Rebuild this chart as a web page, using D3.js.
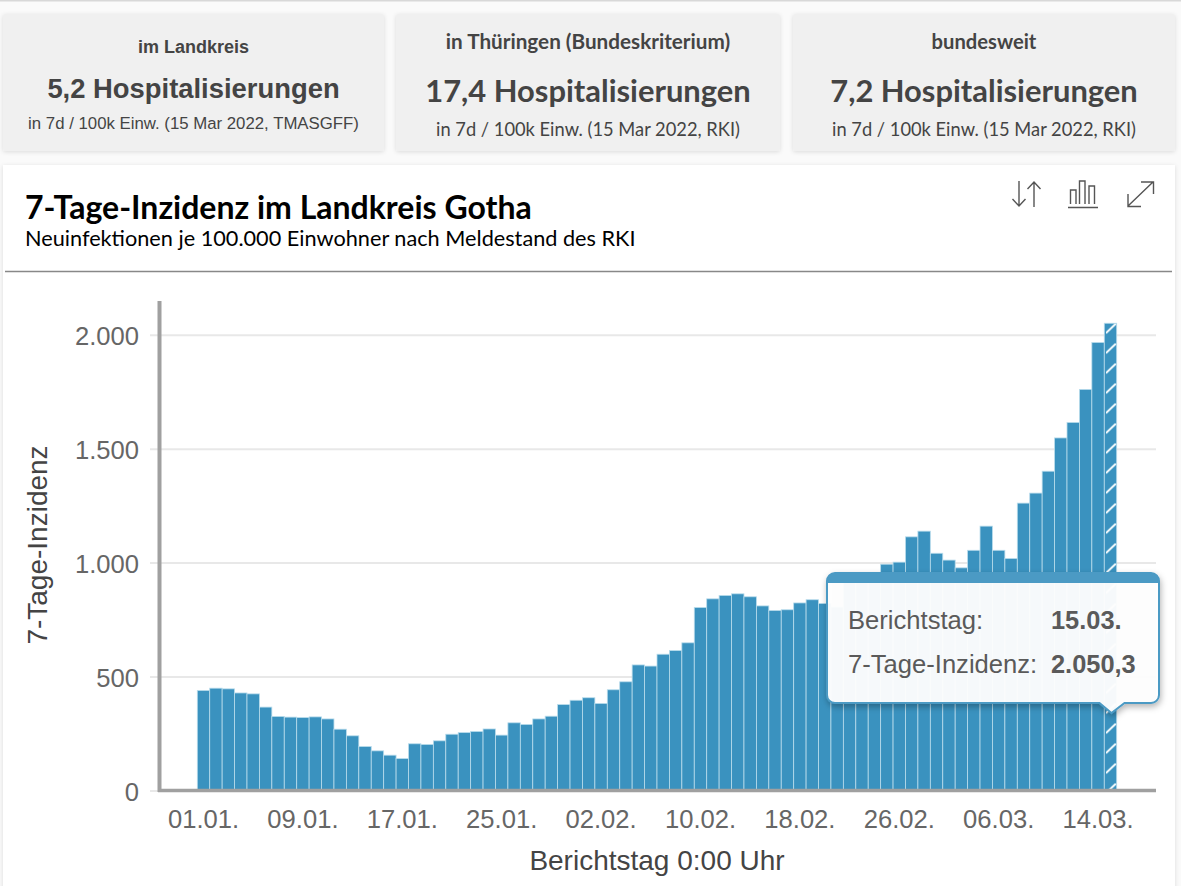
<!DOCTYPE html>
<html>
<head>
<meta charset="utf-8">
<script src="https://cdn.jsdelivr.net/npm/d3@7"></script>
<style>
  html, body { margin: 0; padding: 0; background: #fafafa; overflow: hidden; }
  svg { display: block; }
  .arial { font-family: "Liberation Sans", Arial, sans-serif; }
  .lato { font-family: Lato, sans-serif; }
</style>
</head>
<body>
<script>
// Report days, one per bar
const days = [
  "01.01.","02.01.","03.01.","04.01.","05.01.","06.01.","07.01.","08.01.","09.01.","10.01.",
  "11.01.","12.01.","13.01.","14.01.","15.01.","16.01.","17.01.","18.01.","19.01.","20.01.",
  "21.01.","22.01.","23.01.","24.01.","25.01.","26.01.","27.01.","28.01.","29.01.","30.01.","31.01.",
  "01.02.","02.02.","03.02.","04.02.","05.02.","06.02.","07.02.","08.02.","09.02.","10.02.",
  "11.02.","12.02.","13.02.","14.02.","15.02.","16.02.","17.02.","18.02.","19.02.","20.02.",
  "21.02.","22.02.","23.02.","24.02.","25.02.","26.02.","27.02.","28.02.",
  "01.03.","02.03.","03.03.","04.03.","05.03.","06.03.","07.03.","08.03.","09.03.","10.03.",
  "11.03.","12.03.","13.03.","14.03.","15.03."
];

// 7-day incidence
const incidence = [
  439,449,446,428,424,366,325,322,320,323,
  314,269,240,193,174,155,140,205,202,218,
  247,254,259,270,243,297,290,314,326,377,396,
  407,382,442,477,551,546,598,614,648,803,
  841,856,863,850,810,790,793,823,837,821,
  805,920,935,950,993,1002,1113,1138,
  1041,1011,977,1054,1160,1054,1018,1261,1305,1401,
  1547,1615,1760,1966,2050.3
];

const xTickLabels = ["01.01.","09.01.","17.01.","25.01.","02.02.","10.02.","18.02.","26.02.","06.03.","14.03."];
const yTicks = [0, 500, 1000, 1500, 2000];
const hatchedDay = "15.03.";

const cards = [
  { x: 3, w: 381, head: "im Landkreis", main: "5,2 Hospitalisierungen", sub: "in 7d / 100k Einw. (15 Mar 2022, TMASGFF)" },
  { x: 396, w: 384, head: "in Thüringen (Bundeskriterium)", main: "17,4 Hospitalisierungen", sub: "in 7d / 100k Einw. (15 Mar 2022, RKI)" },
  { x: 793, w: 382, head: "bundesweit", main: "7,2 Hospitalisierungen", sub: "in 7d / 100k Einw. (15 Mar 2022, RKI)" }
];

const width = 1181, height = 886;
const blue = "#3a92bf", grey = "#666";
const de = d3.formatLocale({ decimal: ",", thousands: ".", grouping: [3], currency: ["", "€"] });

const svg = d3.select("body").append("svg")
  .attr("width", width)
  .attr("height", height);

const defs = svg.append("defs");

const shadow = defs.append("filter").attr("id", "soft")
  .attr("x", "-5%").attr("y", "-10%").attr("width", "110%").attr("height", "120%");
shadow.append("feDropShadow").attr("dx", 0).attr("dy", 1).attr("stdDeviation", 2)
  .attr("flood-color", "#000").attr("flood-opacity", 0.12);

const tipShadow = defs.append("filter").attr("id", "tipShadow")
  .attr("x", "-5%").attr("y", "-10%").attr("width", "110%").attr("height", "125%");
tipShadow.append("feDropShadow").attr("dx", 1).attr("dy", 3).attr("stdDeviation", 3)
  .attr("flood-color", "#000").attr("flood-opacity", 0.3);

// Diagonal stripes for the last (incomplete) day
const hatch = defs.append("pattern").attr("id", "hatch")
  .attr("patternUnits", "userSpaceOnUse")
  .attr("width", 20).attr("height", 20)
  .attr("patternTransform", "translate(1106,323.5)");
hatch.append("rect").attr("width", 20).attr("height", 20).attr("fill", blue);
hatch.append("path").attr("d", "M0,9.5L10,0").attr("stroke", "#fff").attr("stroke-width", 1.8).attr("fill", "none");

// Page top line
svg.append("rect").attr("width", width).attr("height", 1.5).attr("fill", "#d8d8d8");

// Summary cards
const cardSizes = [
  { head: 18, main: 27.4, sub: 16.8 },
  { head: 20.7, main: 30.9, sub: 18.3 },
  { head: 20.2, main: 30.9, sub: 18.3 }
];
cards.forEach((c, i) => {
  const g = svg.append("g");
  const cx = c.x + c.w / 2;
  g.append("rect")
    .attr("x", c.x).attr("y", 14).attr("width", c.w).attr("height", 137).attr("rx", 2)
    .attr("fill", "#f0f0f0").attr("filter", "url(#soft)");
  const fam = i === 0 ? "arial" : "lato";
  g.append("text").attr("class", fam)
    .attr("x", cx).attr("y", i === 0 ? 53 : 48.5)
    .attr("text-anchor", "middle").attr("fill", "#444")
    .attr("font-weight", "bold").attr("font-size", cardSizes[i].head)
    .text(c.head);
  g.append("text").attr("class", fam)
    .attr("x", cx).attr("y", i === 0 ? 98 : 102)
    .attr("text-anchor", "middle").attr("fill", "#444")
    .attr("font-weight", "bold").attr("font-size", cardSizes[i].main)
    .text(c.main);
  g.append("text").attr("class", fam)
    .attr("x", cx).attr("y", i === 0 ? 129 : 136)
    .attr("text-anchor", "middle").attr("fill", "#444")
    .attr("font-size", cardSizes[i].sub)
    .text(c.sub);
});

// Chart panel
svg.append("rect")
  .attr("x", 3).attr("y", 165).attr("width", 1172).attr("height", 740)
  .attr("fill", "#fff").attr("filter", "url(#soft)");

svg.append("text").attr("class", "lato")
  .attr("x", 25).attr("y", 219)
  .attr("font-weight", "bold").attr("font-size", 32).attr("fill", "#000")
  .text("7-Tage-Inzidenz im Landkreis Gotha");

svg.append("text").attr("class", "lato")
  .attr("x", 25).attr("y", 246)
  .attr("font-size", 21.7).attr("fill", "#000")
  .text("Neuinfektionen je 100.000 Einwohner nach Meldestand des RKI");

svg.append("line")
  .attr("x1", 5).attr("x2", 1172).attr("y1", 271.5).attr("y2", 271.5)
  .attr("stroke", "#888").attr("stroke-width", 1.5);

// Toolbar icons
const icons = svg.append("g").attr("fill", "none").attr("stroke", "#555").attr("stroke-width", 1.4);
icons.append("path").attr("d", "M1019,181V206M1012.5,199L1019,206L1025.5,199M1034,207V182M1027.5,189L1034,182L1040.5,189");
icons.append("path").attr("d", "M1068,207.5H1098M1070.5,204V190H1076V204M1079.5,204V181H1085V204M1089,204V186H1094.5V204");
icons.append("path").attr("d", "M1128,206L1153,182M1141,182H1153.5V194M1128,194V206.5H1141");

// Scales
const x = d3.scaleBand().domain(days).range([197.3, 1116.7]);
const y = d3.scaleLinear().domain([0, 2000]).range([790.5, 334.7]);

// Grid lines and value labels
const yAxis = svg.append("g")
  .attr("class", "arial")
  .attr("transform", "translate(150,0)")
  .call(d3.axisLeft(y)
    .tickValues(yTicks)
    .tickSize(-1006)
    .tickPadding(11)
    .tickFormat(de.format(",d")));
yAxis.select(".domain").remove();
yAxis.selectAll(".tick line").attr("stroke", "#e8e8e8").attr("stroke-width", 2);
yAxis.selectAll(".tick text").attr("y", 1.5).attr("font-size", 25.6).attr("fill", grey).attr("font-family", "Liberation Sans");

// Bars
svg.append("g")
  .selectAll("rect")
  .data(incidence)
  .join("rect")
  .attr("x", (d, i) => x(days[i]))
  .attr("y", d => y(d))
  .attr("width", x.bandwidth())
  .attr("height", d => y(0) - y(d))
  .attr("fill", (d, i) => days[i] === hatchedDay ? "url(#hatch)" : blue)
  .attr("stroke", "#b9dcec")
  .attr("stroke-width", 0.8);

// Axis lines
svg.append("line")
  .attr("x1", 159.5).attr("x2", 159.5).attr("y1", 301).attr("y2", 792)
  .attr("stroke", "#a0a0a0").attr("stroke-width", 4);

const xAxis = svg.append("g")
  .attr("class", "arial")
  .attr("transform", "translate(0,790.5)")
  .call(d3.axisBottom(x).tickValues(xTickLabels).tickSize(0).tickPadding(19));
xAxis.select(".domain").remove();
xAxis.selectAll(".tick text").attr("font-size", 25.6).attr("fill", grey).attr("font-family", "Liberation Sans");

svg.append("line")
  .attr("x1", 158).attr("x2", 1156).attr("y1", 790.5).attr("y2", 790.5)
  .attr("stroke", "#a0a0a0").attr("stroke-width", 3.5);

// Axis titles
svg.append("text").attr("class", "arial")
  .attr("transform", "translate(47,545) rotate(-90)")
  .attr("text-anchor", "middle").attr("font-size", 28).attr("fill", "#444")
  .text("7-Tage-Inzidenz");

svg.append("text").attr("class", "arial")
  .attr("x", 657).attr("y", 870)
  .attr("text-anchor", "middle").attr("font-size", 28).attr("fill", "#444")
  .text("Berichtstag 0:00 Uhr");

// Tooltip for the last day, its tip points at the hatched bar
const tipX = x(hatchedDay) + x.bandwidth() / 2 + 1;
const tip = svg.append("g");
tip.append("path")
  .attr("d", `M835,573H1151a8,8 0 0 1 8,8V695a8,8 0 0 1 -8,8H${tipX + 13}L${tipX},713L${tipX - 12},703H835a8,8 0 0 1 -8,-8V581a8,8 0 0 1 8,-8Z`)
  .attr("fill", "#fff").attr("fill-opacity", 0.95)
  .attr("stroke", "#4b9ac4").attr("stroke-width", 2)
  .attr("filter", "url(#tipShadow)");
tip.append("path")
  .attr("d", "M827,583V581a8,8 0 0 1 8,-8H1151a8,8 0 0 1 8,8V583Z")
  .attr("fill", "#4b9ac4");

const tipRows = [
  ["Berichtstag:", hatchedDay, 629],
  ["7-Tage-Inzidenz:", de.format(",.1f")(incidence[incidence.length - 1]), 673]
];
tipRows.forEach(r => {
  tip.append("text").attr("class", "arial")
    .attr("x", 848).attr("y", r[2])
    .attr("font-size", 25.6).attr("fill", "#5a5a5a").text(r[0]);
  tip.append("text").attr("class", "arial")
    .attr("x", 1051).attr("y", r[2])
    .attr("font-size", 25.4).attr("font-weight", "bold").attr("fill", "#5a5a5a").text(r[1]);
});
</script>
</body>
</html>
